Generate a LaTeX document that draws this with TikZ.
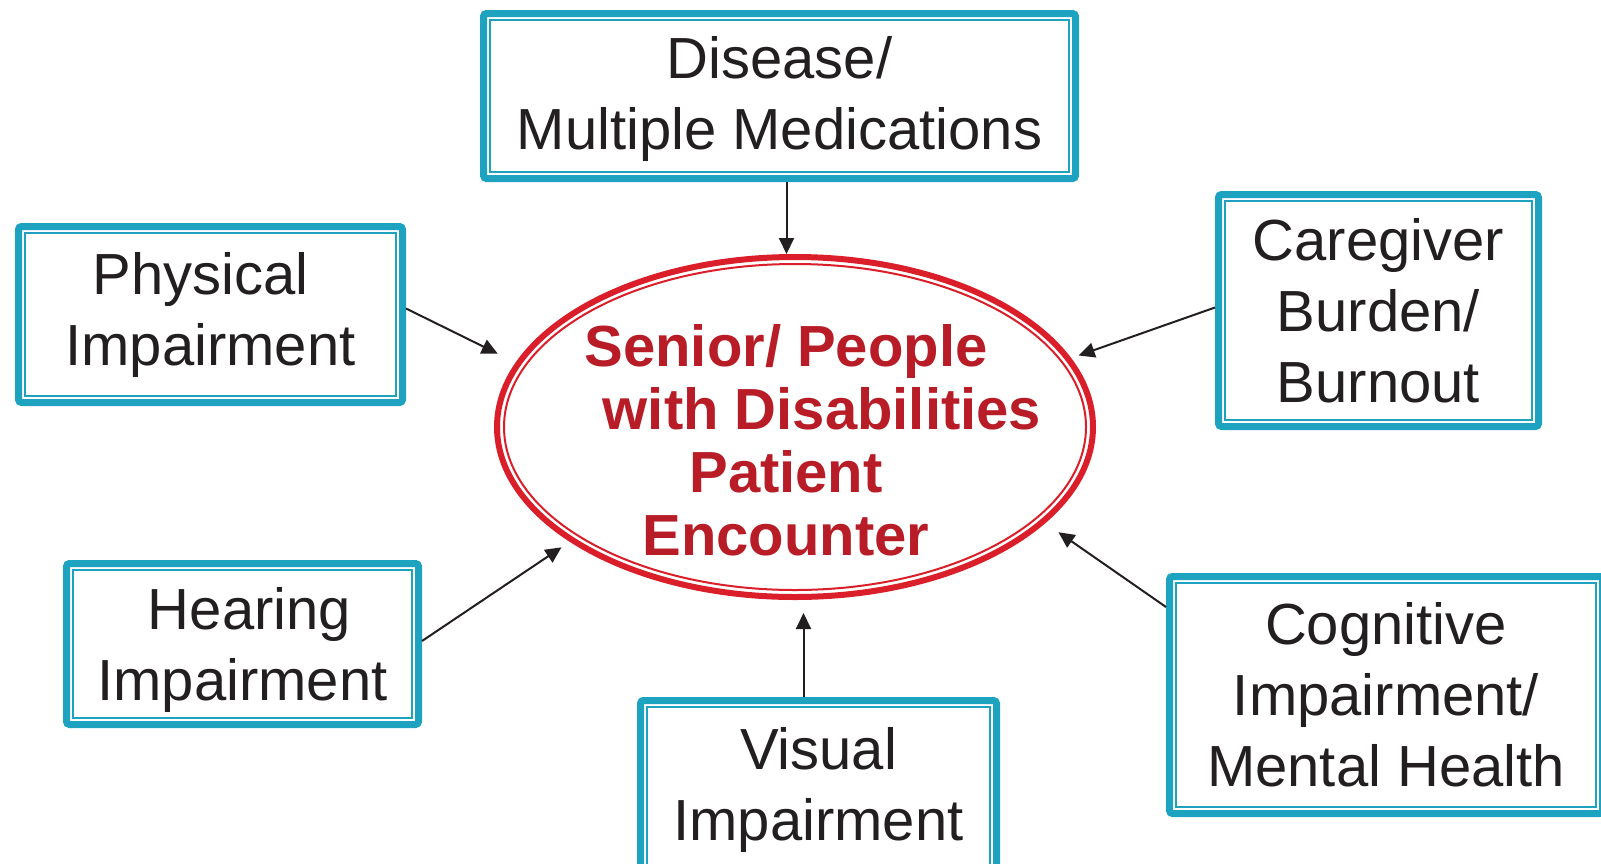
\documentclass[tikz,border=0pt]{standalone}
\usepackage{fontspec}
\setmainfont{Liberation Sans}
\usetikzlibrary{arrows.meta,shapes.geometric}
\definecolor{teal1}{HTML}{1DA2C0}
\definecolor{red1}{HTML}{DA1F2A}
\definecolor{red2}{HTML}{B81C26}
\definecolor{ink}{HTML}{231F20}
\begin{document}
\begin{tikzpicture}[x=0.5pt,y=-0.5pt,
  box/.style={draw=teal1, line width=3.5pt, rounded corners=1.5pt, rectangle, fill=white, text=ink, align=center, font=\fontsize{29}{35.5}\selectfont, inner sep=0pt},
  innerline/.style={draw=teal1, line width=0.9pt},
  arr/.style={draw=ink, line width=1pt, -{Triangle[length=8pt,width=7.5pt]}},
]
\useasboundingbox (0,0) rectangle (1601,863);
\clip (0,0) rectangle (1601,863);

\node[box, minimum width=296pt, minimum height=82.5pt, text depth=3pt] (top) at (779.5,96) {Disease/\\Multiple Medications};
\node[box, minimum width=192pt, minimum height=88pt] (phys) at (210.5,314.5) {Physical\hspace*{10pt}\\Impairment};
\node[box, minimum width=160pt, minimum height=116pt] (care) at (1378.5,310.5) {Caregiver\\Burden/\\Burnout};
\node[box, minimum width=176pt, minimum height=80.5pt, text depth=0pt] (hear) at (242.5,644) {\hspace*{7pt}Hearing\\Impairment};
\node[box, minimum width=178pt, minimum height=89pt] (vis) at (818.5,789.5) {Visual\\Impairment};
\node[box, minimum width=216.5pt, minimum height=118.5pt] (cog) at (1386,695) {Cognitive\\Impairment/\\Mental Health};

\foreach \n in {top,phys,care,hear,vis,cog}
  \draw[innerline] ([shift={(5pt,-5pt)}]\n.north west) rectangle ([shift={(-5pt,5pt)}]\n.south east);

\node[ellipse, draw=red1, line width=3pt, minimum width=298pt, minimum height=170pt, inner sep=0pt, fill=white] (ell) at (795,427) {};
\draw[red1, line width=1pt] (ell.center) ellipse [x radius=145.5pt, y radius=81.5pt];
\node[text=red2, font=\bfseries\fontsize{29}{31.5}\selectfont, align=center, inner sep=0pt] (lbl) at (786,440) {Senior/ People\\\hspace*{36pt}with Disabilities\\Patient\\Encounter};

\draw[arr] ([xshift=3.5pt]top.south) -- ([xshift=3.5pt]top.south |- ell.north);
\draw[arr, shorten >=10pt] ([yshift=3pt]phys.east) -- (ell.167);
\draw[arr, shorten >=4pt] ([yshift=1.5pt]care.west) -- (ell.14);
\draw[arr, shorten >=5pt] ([yshift=1.5pt]hear.east) -- (ell.207);
\draw[arr, shorten >=6.5pt] ([xshift=-7.5pt]vis.north) -- ([xshift=-7.5pt]vis.north |- ell.south);
\draw[arr, shorten >=8pt] ([yshift=-17pt]cog.north west) -- (ell.339);
\end{tikzpicture}
\end{document}
